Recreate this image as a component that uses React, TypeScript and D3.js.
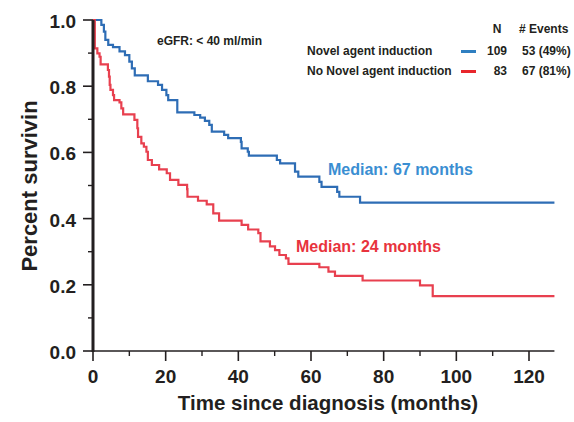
import React, { useEffect, useRef } from "react";
import * as d3 from "d3";

// Kaplan-Meier steps (time in months, survival after drop)
const novelTimes = [0, 2.3, 3.0, 3.4, 4.2, 5.5, 7.3, 8.8, 10.0, 10.7, 11.5, 15.1, 17.9, 19.0, 20.2, 20.7, 23.2, 27.9, 29.5, 30.8, 32.0, 32.7, 36.1, 37.2, 40.7, 40.9, 42.6, 42.9, 50.6, 51.5, 55.6, 56.5, 62.3, 62.9, 67.2, 67.8, 73.5, 127];
const novelSurv = [1, 0.985, 0.965, 0.94, 0.925, 0.918, 0.905, 0.894, 0.874, 0.854, 0.833, 0.815, 0.804, 0.789, 0.773, 0.758, 0.721, 0.713, 0.705, 0.695, 0.683, 0.663, 0.653, 0.643, 0.632, 0.612, 0.602, 0.59, 0.577, 0.567, 0.542, 0.527, 0.511, 0.496, 0.481, 0.466, 0.448, 0.448];

const noNovelTimes = [0, 0.5, 1.2, 1.8, 2.1, 4.1, 4.4, 4.6, 4.8, 5.5, 5.8, 7.3, 7.8, 8.3, 11.4, 12.2, 12.4, 13.3, 14.0, 14.7, 15.1, 16.2, 18.2, 20.3, 21.2, 23.5, 25.9, 26.0, 28.9, 31.3, 33.1, 34.7, 40.9, 42.7, 45.5, 46.1, 48.7, 50.1, 51.3, 53.1, 53.8, 62.3, 64.8, 66.6, 74.2, 90.0, 93.5, 127];
const noNovelSurv = [1, 0.914, 0.899, 0.889, 0.866, 0.849, 0.829, 0.804, 0.789, 0.773, 0.758, 0.751, 0.733, 0.715, 0.698, 0.673, 0.647, 0.627, 0.617, 0.602, 0.577, 0.562, 0.549, 0.537, 0.517, 0.502, 0.489, 0.466, 0.454, 0.443, 0.416, 0.394, 0.381, 0.367, 0.356, 0.331, 0.316, 0.305, 0.29, 0.28, 0.263, 0.253, 0.24, 0.227, 0.213, 0.198, 0.166, 0.166];

const xTicks = [0, 20, 40, 60, 80, 100, 120];
const xMinor = [10, 30, 50, 70, 90, 110];
const yTicks = [0, 0.2, 0.4, 0.6, 0.8, 1.0];
const yMinor = [0.1, 0.3, 0.5, 0.7, 0.9];

const groups = ["Novel agent induction", "No Novel agent induction"];
const groupN = [109, 83];
const groupEvents = ["53 (49%)", "67 (81%)"];
const medians = ["Median: 67 months", "Median: 24 months"];

const App = () => {
  const svgRef = useRef<SVGSVGElement>(null);

  useEffect(() => {
    const width = 574;
    const height = 422;
    const font = "'Liberation Sans', Arial, sans-serif";
    const ink = "#231f20";
    const curveBlue = "#2e6db5";
    const curveRed = "#e8404f";

    const svg = d3.select(svgRef.current);
    svg.selectAll("*").remove();
    svg.attr("width", width).attr("height", height).style("font-family", font);

    const x = d3.scaleLinear().domain([0, 120]).range([93, 529]);
    const y = d3.scaleLinear().domain([0, 1]).range([351, 20]);

    // curves
    const line = d3
      .line<[number, number]>()
      .x((d) => x(d[0]))
      .y((d) => y(d[1]))
      .curve(d3.curveStepAfter);

    const series = [
      { t: novelTimes, s: novelSurv, color: curveBlue },
      { t: noNovelTimes, s: noNovelSurv, color: curveRed },
    ];
    series.forEach((sr) => {
      svg
        .append("path")
        .attr("d", line(sr.t.map((t, i) => [t, sr.s[i]] as [number, number])))
        .attr("fill", "none")
        .attr("stroke", sr.color)
        .attr("stroke-width", 2.2);
    });

    // x axis
    const xAxis = svg.append("g");
    xAxis
      .append("line")
      .attr("x1", x(0))
      .attr("x2", x(127))
      .attr("y1", y(0))
      .attr("y2", y(0))
      .attr("stroke", ink)
      .attr("stroke-width", 1.6);
    xTicks.forEach((t) => {
      xAxis
        .append("line")
        .attr("x1", x(t))
        .attr("x2", x(t))
        .attr("y1", y(0))
        .attr("y2", y(0) + 10)
        .attr("stroke", ink)
        .attr("stroke-width", 1.6);
      xAxis
        .append("text")
        .attr("x", x(t))
        .attr("y", y(0) + 32)
        .attr("text-anchor", "middle")
        .style("font-size", "19px")
        .style("font-weight", "bold")
        .style("fill", ink)
        .text(t);
    });
    xMinor.forEach((t) => {
      xAxis
        .append("line")
        .attr("x1", x(t))
        .attr("x2", x(t))
        .attr("y1", y(0))
        .attr("y2", y(0) + 5)
        .attr("stroke", ink)
        .attr("stroke-width", 1.4);
    });

    // y axis
    const yAxis = svg.append("g");
    yAxis
      .append("line")
      .attr("x1", x(0))
      .attr("x2", x(0))
      .attr("y1", y(1))
      .attr("y2", y(0) + 1)
      .attr("stroke", ink)
      .attr("stroke-width", 3);
    yTicks.forEach((v) => {
      yAxis
        .append("line")
        .attr("x1", x(0) - 10)
        .attr("x2", x(0))
        .attr("y1", y(v))
        .attr("y2", y(v))
        .attr("stroke", ink)
        .attr("stroke-width", 1.6);
      yAxis
        .append("text")
        .attr("x", x(0) - 17)
        .attr("y", y(v) + 8)
        .attr("text-anchor", "end")
        .style("font-size", "19px")
        .style("font-weight", "bold")
        .style("fill", ink)
        .text(v.toFixed(1));
    });
    yMinor.forEach((v) => {
      yAxis
        .append("line")
        .attr("x1", x(0) - 5)
        .attr("x2", x(0))
        .attr("y1", y(v))
        .attr("y2", y(v))
        .attr("stroke", ink)
        .attr("stroke-width", 1.4);
    });

    // axis titles
    svg
      .append("text")
      .attr("x", 328)
      .attr("y", 410)
      .attr("text-anchor", "middle")
      .style("font-size", "20.5px")
      .style("font-weight", "bold")
      .style("fill", ink)
      .text("Time since diagnosis (months)");

    svg
      .append("text")
      .attr("transform", "translate(37,186) rotate(-90)")
      .attr("text-anchor", "middle")
      .style("font-size", "22px")
      .style("font-weight", "bold")
      .style("fill", ink)
      .text("Percent survivin");

    // subgroup label
    svg
      .append("text")
      .attr("x", 157)
      .attr("y", 44.5)
      .style("font-size", "12px")
      .style("font-weight", "bold")
      .style("fill", ink)
      .text("eGFR: < 40 ml/min");

    // legend table
    const legend = svg.append("g").style("font-size", "12px").style("font-weight", "bold").style("fill", ink);
    legend.append("text").attr("x", 497).attr("y", 33).attr("text-anchor", "middle").text("N");
    legend.append("text").attr("x", 519).attr("y", 33).text("# Events");
    const legendColors = ["#2f7fc1", "#e8262c"];
    groups.forEach((g, i) => {
      const by = 55 + i * 20;
      legend.append("text").attr("x", 307).attr("y", by).text(g);
      legend
        .append("line")
        .attr("x1", 461)
        .attr("x2", 476)
        .attr("y1", by - 3.5)
        .attr("y2", by - 3.5)
        .attr("stroke", legendColors[i])
        .attr("stroke-width", 3);
      legend.append("text").attr("x", 507).attr("y", by).attr("text-anchor", "end").text(groupN[i]);
      legend.append("text").attr("x", 522).attr("y", by).text(groupEvents[i]);
    });

    // median labels
    const medianColors = ["#3a8ed2", "#e8333d"];
    const medianPos = [
      [328, 175],
      [296, 252],
    ];
    medians.forEach((m, i) => {
      svg
        .append("text")
        .attr("x", medianPos[i][0])
        .attr("y", medianPos[i][1])
        .style("font-size", "16px")
        .style("font-weight", "bold")
        .style("fill", medianColors[i])
        .text(m);
    });
  }, []);

  return (
    <div style={{ position: "absolute", left: 0, top: 0, width: 574, height: 422, background: "#fff" }}>
      <svg ref={svgRef} style={{ display: "block" }} />
    </div>
  );
};

export default App;
